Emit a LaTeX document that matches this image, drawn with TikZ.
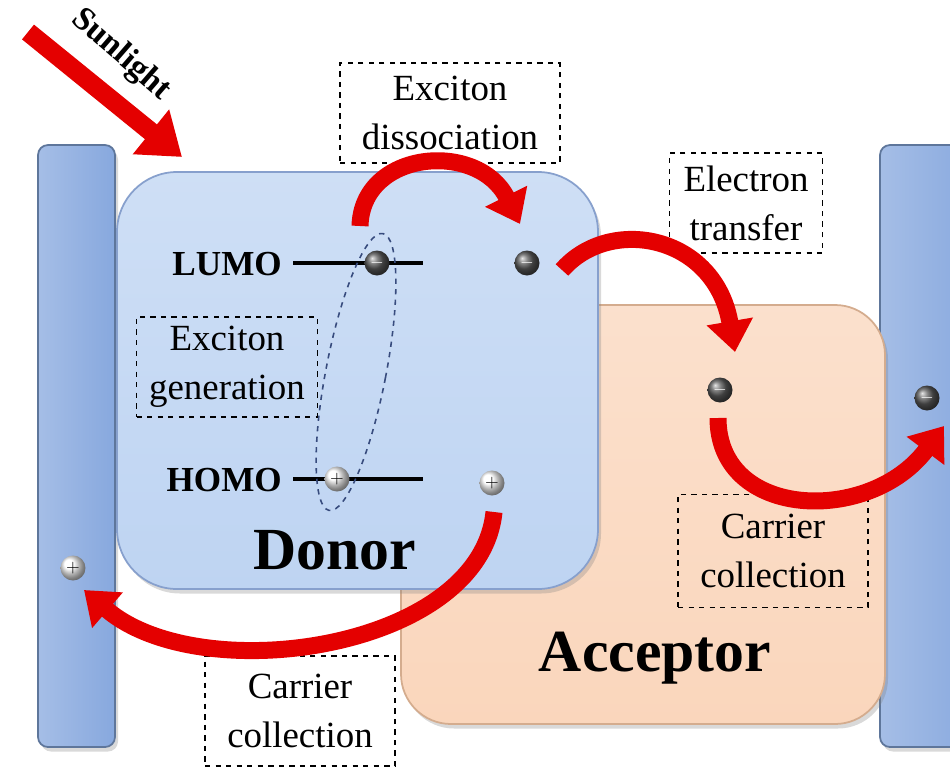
\documentclass[tikz,border=0pt]{standalone}
\usepackage{fontspec}
\setmainfont{Liberation Serif}
\usetikzlibrary{arrows.meta,shadows}

\definecolor{donorblue}{RGB}{190,212,242}
\definecolor{donoredge}{RGB}{135,160,205}
\definecolor{electrodeblue}{RGB}{135,168,222}
\definecolor{acceptorpeach}{RGB}{250,214,188}
\definecolor{acceptoredge}{RGB}{212,172,142}
\definecolor{arrowred}{RGB}{228,0,0}
\definecolor{excitonline}{RGB}{55,75,125}

\tikzset{
  layer/.style={draw=#1, line width=1pt,
    drop shadow={opacity=0.3, shadow xshift=0.6mm, shadow yshift=-0.9mm}},
  stepnote/.style={draw, dashed, line width=0.7pt, align=center, inner sep=0pt,
    font=\fontsize{21}{28}\selectfont},
  electron/.style={circle, minimum size=0.5cm, inner sep=0pt,
    ball color=black!65, text=white, font=\bfseries},
  hole/.style={circle, minimum size=0.5cm, inner sep=0pt,
    ball color=white, text=black},
  transfer/.style={arrowred, line width=0.34cm,
    -{Triangle[width=0.9cm,length=0.62cm]}},
  level/.style={line width=1.8pt}
}

\begin{document}
\begin{tikzpicture}[x=0.02cm, y=-0.02cm]
    \useasboundingbox (0,0) rectangle (950,768);

    % Electrodes
    \draw[layer=electrodeblue!70!black, left color=electrodeblue!75!white,
          right color=electrodeblue, rounded corners=0.2cm] (38,145) rectangle (115,747);
    \draw[layer=electrodeblue!70!black, left color=electrodeblue!75!white,
          right color=electrodeblue, rounded corners=0.2cm] (880,145) rectangle (980,747);

    % Acceptor en donor
    \draw[layer=acceptoredge, top color=acceptorpeach!75!white,
          bottom color=acceptorpeach, rounded corners=1.0cm] (401,305) rectangle (885,724);
    \draw[layer=donoredge, top color=donorblue!75!white,
          bottom color=donorblue, rounded corners=1.2cm] (117,172) rectangle (598,589);

    \node (donor) at (335,550) {\fontsize{34}{34}\selectfont\bfseries Donor};
    \node (acceptor) at (655,658) {\fontsize{34}{34}\selectfont\bfseries Acceptor};

    % Niveaus
    \node[anchor=east, font=\fontsize{20}{20}\selectfont\bfseries] (lumo) at (288,264) {LUMO};
    \node[anchor=east, font=\fontsize{20}{20}\selectfont\bfseries] (homo) at (288,480) {HOMO};
    \coordinate (lumoend) at (423,263);
    \coordinate (homoend) at (423,479);
    \draw[level] (lumo.east |- lumoend) ++(5,0) -- (lumoend);
    \draw[level] (homo.east |- homoend) ++(5,0) -- (homoend);

    % Exciton
    \draw[excitonline, dashed, line width=0.9pt, rotate around={-11:(356,372)}]
        (356,372) ellipse [x radius=30, y radius=141];

    % Ladingsdragers
    \node[electron] (e1) at (377,263) {$-$};
    \node[electron] (e2) at (527,263) {$-$};
    \node[electron] (e3) at (720,390) {$-$};
    \node[electron] (e4) at (927,398) {$-$};
    \node[hole] (h1) at (337,479) {$+$};
    \node[hole] (h2) at (492,483) {$+$};
    \node[hole] (h3) at (73,568) {$+$};

    % Stappen
    \node[stepnote, minimum width=4.4cm, minimum height=2.0cm] (dissociation) at (450,113) {Exciton\\dissociation};
    \node[stepnote, minimum width=3.06cm, minimum height=2.0cm] (etransfer) at (746,203) {Electron\\transfer};
    \node[stepnote, minimum width=3.62cm, minimum height=2.0cm] (generation) at (227,367) {Exciton\\generation};
    \node[stepnote, minimum width=3.8cm, minimum height=2.2cm] (collectleft) at (300,711) {Carrier\\collection};
    \node[stepnote, minimum width=3.8cm, minimum height=2.26cm] (collectright) at (773,551) {Carrier\\collection};

    % Pijlen
    \coordinate (sunA) at (28,32);
    \coordinate (sunB) at (182,157);
    \draw[transfer, line width=0.38cm, -{Triangle[width=1.1cm,length=0.8cm]}] (sunA) -- (sunB);
    \node[rotate=-41, font=\fontsize{19}{19}\selectfont\bfseries] (sunlight) at (121,55) {Sunlight};

    \coordinate (dissA) at (360,226);
    \coordinate (dissB) at (520,224);
    \draw[transfer] (dissA) .. controls (362,150) and (478,140) .. (dissB);

    \coordinate (transA) at (562,270);
    \coordinate (transB) at (735,352);
    \draw[transfer] (transA) .. controls (610,215) and (715,235) .. (transB);

    \coordinate (collA) at (718,418);
    \coordinate (collB) at (944,426);
    \draw[transfer] (collA) .. controls (718,520) and (870,525) .. (collB);

    \coordinate (holeA) at (494,512);
    \coordinate (holeB) at (84,590);
    \draw[transfer] (holeA) .. controls (480,650) and (200,690) .. (holeB);
\end{tikzpicture}
\end{document}
